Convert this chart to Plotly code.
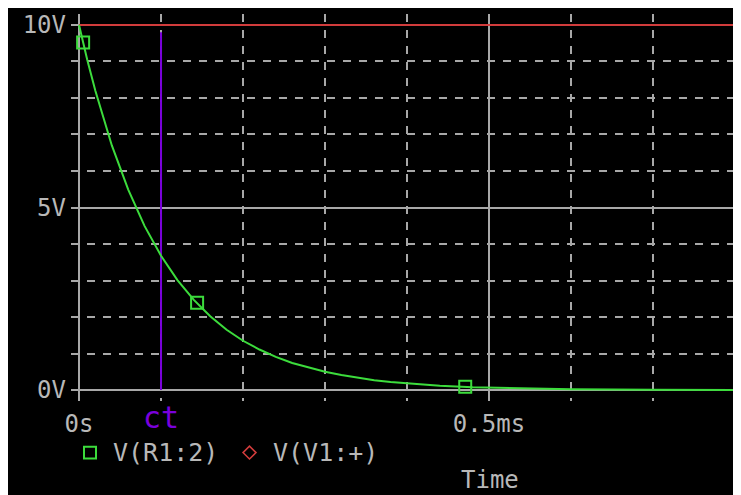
import plotly.graph_objects as go

# ---- data ----
time_ms = [0.0, 0.01, 0.02, 0.04, 0.06, 0.08, 0.10, 0.12, 0.14, 0.16, 0.18, 0.20,
           0.22, 0.24, 0.26, 0.28, 0.30, 0.32, 0.34, 0.36, 0.38, 0.40, 0.44,
           0.48, 0.52, 0.56, 0.60, 0.70, 0.80]
v_r1 = [10.0, 9.05, 8.19, 6.70, 5.49, 4.49, 3.68, 3.01, 2.47, 2.02, 1.65, 1.35,
        1.11, 0.91, 0.74, 0.61, 0.50, 0.41, 0.33, 0.27, 0.22, 0.18, 0.12,
        0.08, 0.06, 0.04, 0.02, 0.01, 0.00]
marker_t = [0.005, 0.144, 0.471]
marker_v = [9.52, 2.39, 0.09]
v1_t = [0.0, 0.8]
v1_v = [10.0, 10.0]
cursor_t = 0.1
cursor_v = [0.0, 9.8]
x_labels = {"0": "0s", "0.5": "0.5ms"}
y_labels = {"0": "0V", "5": "5V", "10": "10V"}
legend_names = ["V(R1:2)", "V(V1:+)"]

GREEN = "#3cdc3c"
RED = "#d23c3c"
PURPLE = "#7a00dc"
GRID = "#a8a8a8"
TXT = "#b8b8b8"
FONT = "DejaVu Sans Mono"

# page body margin offsets the figure by 8px
OX, OY = 8, 8
W, H = 733, 487
L, R, T, B = 63, 8, 3, 94
PW, PH = W - L - R, H - T - B


def px(x):
    return (x - OX - L) / PW


def py(y):
    return (H - B - (y - OY)) / PH


fig = go.Figure()
fig.add_trace(go.Scatter(x=v1_t, y=v1_v, mode="lines",
                         line=dict(color=RED, width=2), name=legend_names[1]))
fig.add_trace(go.Scatter(x=[cursor_t, cursor_t], y=cursor_v, mode="lines",
                         line=dict(color=PURPLE, width=2), name="ct"))
fig.add_trace(go.Scatter(x=time_ms, y=v_r1, mode="lines",
                         line=dict(color=GREEN, width=2), name=legend_names[0]))
fig.add_trace(go.Scatter(x=marker_t, y=marker_v, mode="markers",
                         marker=dict(symbol="square-open", size=12, color=GREEN,
                                     line=dict(width=2, color=GREEN)),
                         showlegend=False))

fig.update_layout(
    width=W, height=H,
    margin=dict(l=L, r=R, t=T, b=B),
    paper_bgcolor="white",
    plot_bgcolor="black",
    showlegend=False,
    font=dict(family=FONT, size=24, color=TXT),
    xaxis=dict(range=[-0.0098, 0.7976], tickmode="linear", tick0=0, dtick=0.5,
               labelalias=x_labels, showgrid=True, gridcolor=GRID, gridwidth=2,
               zeroline=False, showline=False, ticks="", ticklabelstandoff=6,
               tickfont=dict(family=FONT, size=24, color=TXT),
               minor=dict(tickmode="linear", tick0=0, dtick=0.1, showgrid=True,
                          gridcolor=GRID, gridwidth=2, griddash="8px,8px")),
    yaxis=dict(range=[-0.3, 10.3], tickmode="linear", tick0=0, dtick=5,
               labelalias=y_labels, showgrid=True, gridcolor=GRID, gridwidth=2,
               zeroline=False, showline=False, ticks="", ticklabelstandoff=4,
               tickfont=dict(family=FONT, size=24, color=TXT),
               minor=dict(tickmode="linear", tick0=0, dtick=1, showgrid=True,
                          gridcolor=GRID, gridwidth=2, griddash="8px,8px")),
)

shapes = [
    dict(type="rect", xref="paper", yref="paper", x0=px(8), x1=px(733),
         y0=py(496), y1=py(5), fillcolor="black", line=dict(width=0), layer="below"),
    dict(type="rect", xref="paper", yref="paper", x0=px(84), x1=px(96),
         y0=py(459), y1=py(447), line=dict(color=GREEN, width=2)),
    dict(type="path", xref="paper", yref="paper",
         path=f"M {px(243)} {py(453)} L {px(249.5)} {py(446.5)} L {px(256)} {py(453)} "
              f"L {px(249.5)} {py(459.5)} Z",
         line=dict(color=RED, width=1.5)),
]
fig.update_layout(shapes=shapes)

annos = [
    dict(text="ct", x=px(161), y=py(418), font=dict(color=PURPLE, size=30, family=FONT),
         xanchor="center", yanchor="middle"),
    dict(text=legend_names[0], x=px(111), y=py(453), xanchor="left", yanchor="middle",
         font=dict(color=TXT, size=25, family=FONT)),
    dict(text=legend_names[1], x=px(271), y=py(453), xanchor="left", yanchor="middle",
         font=dict(color=TXT, size=25, family=FONT)),
    dict(text="Time", x=px(490), y=py(481), xanchor="center", yanchor="middle"),
]
for a in annos:
    a.update(xref="paper", yref="paper", showarrow=False)
    a.setdefault("font", dict(color=TXT, size=24, family=FONT))
fig.update_layout(annotations=annos)

fig.write_html("out.html")
